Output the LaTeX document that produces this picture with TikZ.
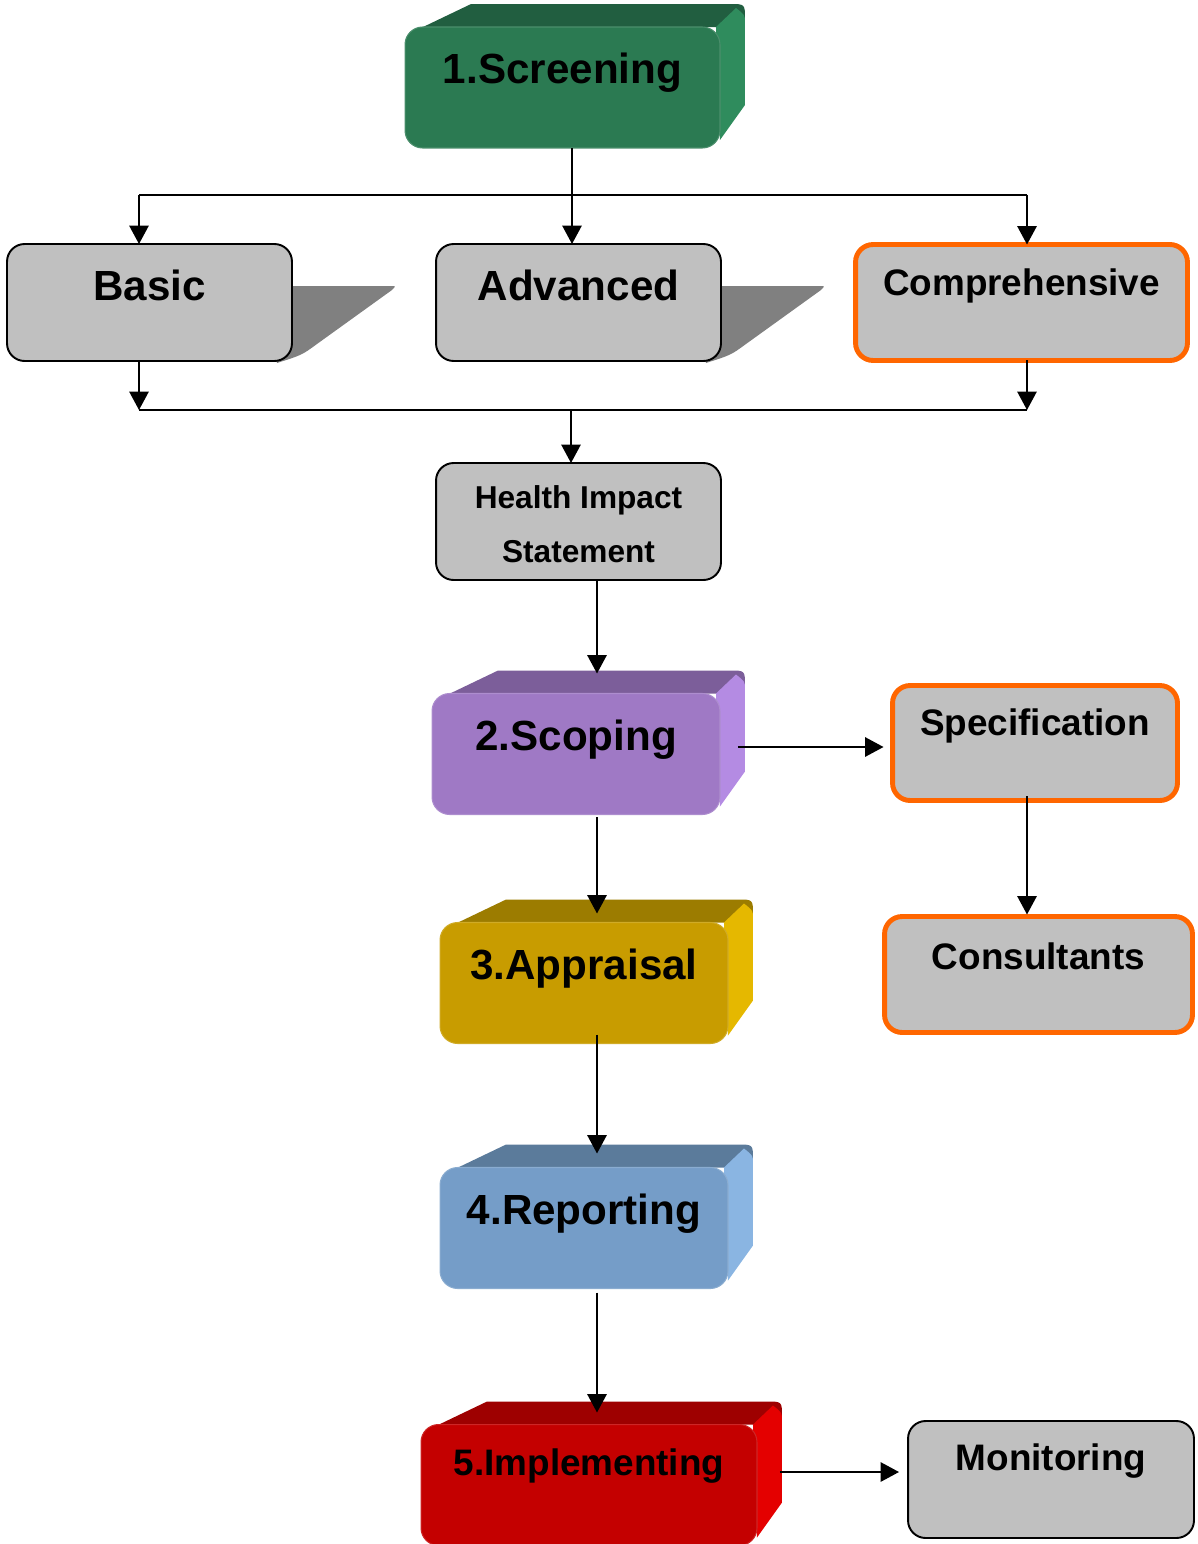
\documentclass[tikz,border=0pt]{standalone}
\usepackage{fontspec}
\setmainfont{Liberation Sans}
\usetikzlibrary{arrows.meta,backgrounds,calc,positioning}
\definecolor{verde}{HTML}{2B7A52}
\definecolor{verdeescuro}{HTML}{215E40}
\definecolor{verdeclaro}{HTML}{2F8C5D}
\definecolor{roxo}{HTML}{9F79C5}
\definecolor{roxoescuro}{HTML}{7C5E9A}
\definecolor{roxoclaro}{HTML}{B48BE3}
\definecolor{ouro}{HTML}{C89C00}
\definecolor{ouroescuro}{HTML}{9C7C00}
\definecolor{ouroclaro}{HTML}{E5B800}
\definecolor{azul}{HTML}{759DC8}
\definecolor{azulescuro}{HTML}{5B7B9B}
\definecolor{azulclaro}{HTML}{8AB5E2}
\definecolor{vermelho}{HTML}{C40000}
\definecolor{vermelhoescuro}{HTML}{9E0000}
\definecolor{vermelhoclaro}{HTML}{E40000}
\definecolor{cinza}{HTML}{C0C0C0}
\definecolor{sombra}{HTML}{808080}
\definecolor{laranja}{HTML}{FF6600}
% top and side faces of a step box
\newcommand{\cubefaces}[3]{%
  \begin{scope}[on background layer]
    \fill[#2] ($(#1.north west)+(18,0)$) -- ($(#1.north west)+(66,-23)$)
      -- ($(#1.north east)+(10,-23)$)
      .. controls ($(#1.north east)+(25,-23)$) .. ($(#1.north east)+(25,-8)$)
      -- ($(#1.north east)+(0,0)$) -- cycle;
    \fill[#3] ($(#1.north east)+(-4,0)$) -- ($(#1.north east)+(16,-19)$)
      .. controls ($(#1.north east)+(25,-12)$) .. ($(#1.north east)+(25,-4)$)
      -- ($(#1.north east)+(25,78)$)
      -- ($(#1.north east)+(0,113)$) -- cycle;
  \end{scope}}
% drop shadow of a grey box
\newcommand{\boxshadow}[1]{%
  \begin{scope}[on background layer]
    \fill[sombra] ($(#1.north east)+(-15,42)$) -- ($(#1.north east)+(99,42)$)
      .. controls ($(#1.north east)+(104,42)$) .. ($(#1.north east)+(100,46)$)
      -- ($(#1.north east)+(25,100)$)
      .. controls ($(#1.north east)+(10,111)$) .. ($(#1.north east)+(-15,119)$) -- cycle;
  \end{scope}}

\begin{document}
\begin{tikzpicture}[
  x=0.02cm,y=-0.02cm,
  stepbox/.style={rounded corners=10pt,line width=0.6pt,minimum height=2.42cm,
                  inner sep=0pt,outer sep=0pt},
  greybox/.style={draw=black,line width=1.1pt,fill=cinza,rounded corners=10pt,
                  minimum width=5.7cm,minimum height=2.34cm,inner sep=0pt,outer sep=0pt},
  orangebox/.style={greybox,draw=laranja,line width=2.8pt},
  steptxt/.style={font=\fontsize{24}{28}\selectfont\bfseries,yshift=8.3pt},
  bigtxt/.style={font=\fontsize{24}{28}\selectfont\bfseries,yshift=10pt},
  midtxt/.style={font=\fontsize{21}{25}\selectfont\bfseries,yshift=9.6pt},
  seta/.style={-{Triangle[length=10.5pt,width=11pt]},line width=1.1pt},
  linha/.style={line width=1.1pt}
]
  \useasboundingbox (0,0) rectangle (1197,1544);

  \node[stepbox,fill=verde,draw=verde!85!white,minimum width=6.3cm,
        label={[steptxt]center:1.Screening}] (screening) at (562.5,87.5) {};
  \node[greybox,label={[bigtxt]center:Basic}] (basic) at (149.5,302.5) {};
  \node[greybox,label={[bigtxt]center:Advanced}] (advanced) at (578.5,302.5) {};
  \node[orangebox,minimum width=6.64cm,minimum height=2.32cm,
        label={[midtxt]center:Comprehensive}] (comp) at (1021.5,302.5) {};
  \node[greybox,label={[align=center,font=\fontsize{18}{30.6}\selectfont\bfseries,
        yshift=-1.6pt]center:Health Impact\\Statement}] (his) at (578.5,521.5) {};
  \node[stepbox,fill=roxo,draw=roxo!85!white,minimum width=5.76cm,
        label={[steptxt]center:2.Scoping}] (scoping) at (576,754) {};
  \node[orangebox,minimum width=5.7cm,minimum height=2.3cm,
        label={[midtxt]center:Specification}] (spec) at (1035,743) {};
  \node[stepbox,fill=ouro,draw=ouro!85!white,minimum width=5.76cm,
        label={[steptxt]center:3.Appraisal}] (appraisal) at (584,983) {};
  \node[orangebox,minimum width=6.16cm,minimum height=2.32cm,
        label={[midtxt,yshift=0.6pt]center:Consultants}] (cons) at (1038.5,974.5) {};
  \node[stepbox,fill=azul,draw=azul!85!white,minimum width=5.76cm,
        label={[steptxt]center:4.Reporting}] (reporting) at (584,1228) {};
  \node[stepbox,fill=vermelho,draw=vermelho!85!white,minimum width=6.72cm,
        label={[midtxt,yshift=1.2pt]center:5.Implementing}] (impl) at (589,1485) {};
  \node[greybox,minimum width=5.72cm,
        label={[midtxt,yshift=0.7pt]center:Monitoring}] (mon) at (1051,1479.5) {};

  \cubefaces{screening}{verdeescuro}{verdeclaro}
  \cubefaces{scoping}{roxoescuro}{roxoclaro}
  \cubefaces{appraisal}{ouroescuro}{ouroclaro}
  \cubefaces{reporting}{azulescuro}{azulclaro}
  \cubefaces{impl}{vermelhoescuro}{vermelhoclaro}
  \boxshadow{basic}
  \boxshadow{advanced}

  % branching lines
  \coordinate (lft) at (139,195);
  \coordinate (rgt) at (1027,195);
  \coordinate (split) at (572,195);
  \coordinate (join) at (571,410);
  \coordinate (spine) at (597,0);

  \draw[seta] (screening.south -| split) -- (split |- advanced.north);
  \draw[linha] (lft) -- (rgt);
  \draw[seta] (lft) -- (lft |- basic.north);
  \draw[seta] (rgt) -- (rgt |- comp.north);
  \draw[seta] (lft |- basic.south) -- (lft |- join);
  \draw[seta] (rgt |- comp.south) -- (rgt |- join);
  \draw[linha] (lft |- join) -- (rgt |- join);
  \draw[seta] (join) -- (join |- his.north);

  % main chain
  \draw[seta] (spine |- his.south) -- ($(spine |- scoping.north)+(0,-20)$);
  \draw[seta] ($(spine |- scoping.south)+(0,3)$) -- ($(spine |- appraisal.north)+(0,-9)$);
  \draw[seta] ($(spine |- appraisal.south)+(0,-9)$) -- ($(spine |- reporting.north)+(0,-14)$);
  \draw[seta] ($(spine |- reporting.south)+(0,4)$) -- ($(spine |- impl.north)+(0,-12)$);

  % side branches
  \draw[seta] ($(scoping.east)+(18,-7)$) -- ($(spec.west)+(-9,4)$);
  \draw[seta] ($(spec.south)+(-8,-4)$) -- ($(cons.north)+(-11.5,-2)$);
  \draw[seta] ($(impl.east)+(23,-13)$) -- ($(mon.west)+(-9,-7.5)$);
\end{tikzpicture}
\end{document}
